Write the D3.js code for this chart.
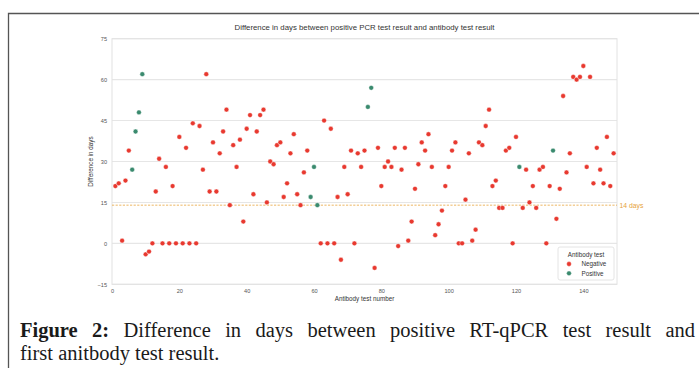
<!DOCTYPE html>
<html><head><meta charset="utf-8">
<script src="https://cdn.jsdelivr.net/npm/d3@7"></script>
<style>
html,body{margin:0;padding:0;background:#fff;}
#wrap{position:relative;width:699px;height:368px;overflow:hidden;}
svg{position:absolute;left:0;top:0;}
.cap{position:absolute;left:20px;font-family:"Liberation Serif","Times New Roman",serif;font-size:20.5px;color:#1a1a1a;white-space:nowrap;}
#cap1{top:319px;width:675px;text-align:justify;text-align-last:justify;white-space:normal;}
#cap2{top:342px;}
</style></head>
<body><div id="wrap">
<svg id="chart" width="699" height="368"></svg>
<div class="cap" id="cap1"><b>Figure 2:</b> Difference in days between positive RT-qPCR test result and</div>
<div class="cap" id="cap2">first anitbody test result.</div>
</div>
<script>
const title = "Difference in days between positive PCR test result and antibody test result";
const xLabel = "Antibody test number";
const yLabel = "Difference in days";
const xTicks = [0,20,40,60,80,100,120,140];
const yTicks = [-15,0,15,30,45,60,75];
const thresholdDays = 14;
const thresholdLabel = "14 days";
const legendTitle = "Antibody test";
const categories = ["Negative","Positive"];
const colors = ["#e8392f","#3a8a6e"];
// difference in days, test numbers 1..149
const diffDays = [21,22,1,23,34,27,41,48,62,-4,
 -3,0,19,31,0,28,0,21,0,39,
 0,35,0,44,0,43,27,62,19,37,
 19,33,41,49,14,36,28,38,8,42,
 47,18,41,47,49,15,30,29,36,37,
 17,22,33,40,18,14,26,34,17,28,
 14,0,45,0,42,0,17,-6,28,18,
 34,0,33,28,34,50,57,-9,35,21,
 28,30,28,35,-1,27,35,1,8,20,
 29,37,34,40,28,3,7,12,21,28,
 34,37,0,0,16,33,1,5,37,36,
 43,49,21,23,13,13,34,35,0,39,
 28,13,27,15,21,13,27,28,0,21,
 34,9,20,54,26,33,61,60,61,65,
 28,61,22,35,27,22,39,21,33];
const positiveTests = [6,7,8,9,59,60,61,76,77,121,131];

const data = diffDays.map((v,i)=>({n:i+1, v, c: positiveTests.includes(i+1) ? "Positive" : "Negative"}));

const svg = d3.select("#chart");
const font = "'Liberation Sans', Arial, sans-serif";
// figure frame
svg.append("path").attr("d","M8.5,368 V13.5 H699").attr("fill","none").attr("stroke","#555").attr("stroke-width",1.3);

const L=112, R=617, T=38.7, B=284.3;
const x = d3.scaleLinear().domain([0,150]).range([L,R]);
const y = d3.scaleLinear().domain([-15,75]).range([B,T]);
const color = d3.scaleOrdinal().domain(categories).range(colors);

svg.append("rect").attr("x",L).attr("y",T).attr("width",R-L).attr("height",B-T).attr("fill","#fff");
// grid
svg.append("g").selectAll("line").data(yTicks).join("line")
  .attr("x1",L).attr("x2",R).attr("y1",d=>y(d)).attr("y2",d=>y(d))
  .attr("stroke","#e6e6e6").attr("stroke-width",1.1);
svg.append("rect").attr("x",L).attr("y",T).attr("width",R-L).attr("height",B-T)
  .attr("fill","none").attr("stroke","#e2e2e2").attr("stroke-width",1);

// axes
const yAxis = svg.append("g").attr("transform",`translate(${L-3},0)`)
  .call(d3.axisLeft(y).tickValues(yTicks).tickSize(0).tickPadding(2));
const xAxis = svg.append("g").attr("transform",`translate(0,${B+3})`)
  .call(d3.axisBottom(x).tickValues(xTicks).tickSize(0).tickPadding(2));
[yAxis,xAxis].forEach(g=>{
  g.select(".domain").remove();
  g.selectAll("text").attr("font-family",font).attr("font-size",5.6).attr("fill","#555");
});

// threshold
svg.append("line").attr("x1",L).attr("x2",R).attr("y1",y(thresholdDays)).attr("y2",y(thresholdDays))
  .attr("stroke","#e9a43c").attr("stroke-width",0.8).attr("stroke-dasharray","2.2,1.4");
svg.append("text").attr("x",R+2.5).attr("y",y(thresholdDays)).attr("dy","0.35em")
  .attr("font-family",font).attr("font-size",6.8).attr("fill","#e6a23c").text(thresholdLabel);

// points
svg.append("g").selectAll("circle").data(data).join("circle")
  .attr("cx",d=>x(d.n)).attr("cy",d=>y(d.v)).attr("r",2.4)
  .attr("fill",d=>color(d.c)).attr("stroke","#fff").attr("stroke-width",0.4);

// labels
svg.append("text").attr("x",(L+R)/2).attr("y",29.5).attr("text-anchor","middle")
  .attr("font-family",font).attr("font-size",7.8).attr("fill","#333").text(title);
svg.append("text").attr("x",(L+R)/2).attr("y",301).attr("text-anchor","middle")
  .attr("font-family",font).attr("font-size",6.3).attr("fill","#333").text(xLabel);
svg.append("text").attr("transform",`translate(93,${(T+B)/2}) rotate(-90)`).attr("text-anchor","middle")
  .attr("font-family",font).attr("font-size",6.3).attr("fill","#333").text(yLabel);

// legend
const lg = svg.append("g");
lg.append("rect").attr("x",558).attr("y",247).attr("width",56).attr("height",33).attr("rx",2)
  .attr("fill","#fff").attr("stroke","#ddd").attr("stroke-width",0.8);
lg.append("text").attr("x",586).attr("y",256.5).attr("text-anchor","middle")
  .attr("font-family",font).attr("font-size",6.3).attr("fill","#333").text(legendTitle);
categories.forEach((c,i)=>{
  lg.append("circle").attr("cx",569).attr("cy",264+i*9.3).attr("r",2.4).attr("fill",color(c)).attr("stroke","#fff").attr("stroke-width",0.4);
  lg.append("text").attr("x",581.5).attr("y",264+i*9.3).attr("dy","0.35em")
    .attr("font-family",font).attr("font-size",6.3).attr("fill","#333").text(c);
});
</script>
</body></html>
